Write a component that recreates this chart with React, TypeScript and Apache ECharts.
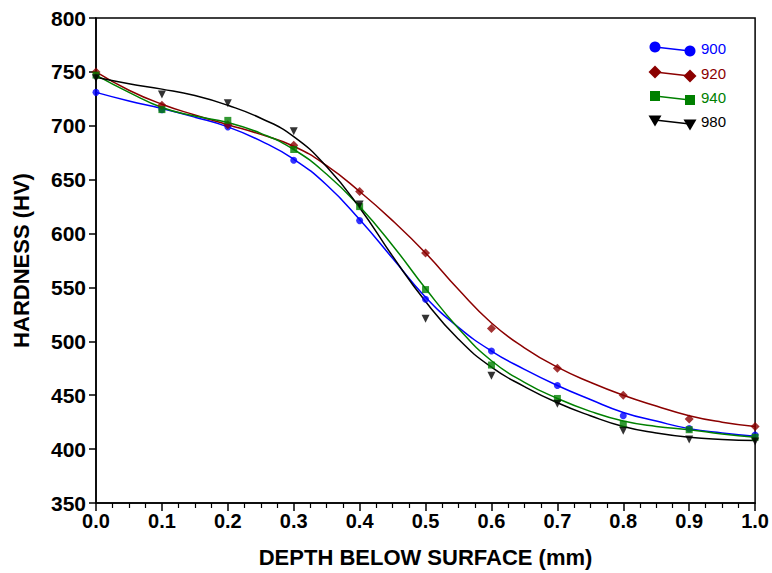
import React, { useEffect, useRef } from "react";
import * as echarts from "echarts";

const depth = [0.0, 0.1, 0.2, 0.3, 0.4, 0.5, 0.6, 0.7, 0.8, 0.9, 1.0];
const hv900 = [731, 715, 699, 668, 612, 539, 491, 459, 431, 419, 413];
const hv920 = [750, 719, 701, 682, 639, 582, 512, 475, 450, 428, 421];
const hv940 = [747, 715, 705, 678, 625, 548, 478, 447, 423, 418, 411];
const hv980 = [744, 729, 721, 695, 627, 521, 468, 442, 417, 409, 407];

const fitDepth = [0.0, 0.05, 0.1, 0.15, 0.2, 0.25, 0.3, 0.35, 0.4, 0.45, 0.5, 0.55, 0.6, 0.65, 0.7, 0.75, 0.8, 0.85, 0.9, 0.95, 1.0];
const fit900 = [731, 723, 716, 708, 699, 686, 669, 645, 613, 577, 541, 513, 491, 474, 459, 446, 434, 426, 419, 415, 412];
const fit920 = [750, 733, 720, 710, 701, 692, 681, 663, 639, 612, 582, 548, 517, 494, 476, 462, 450, 440, 431, 425, 421];
const fit940 = [747, 731, 717, 709, 703, 693, 678, 655, 625, 589, 549, 512, 482, 462, 447, 435, 426, 421, 418, 414, 411];
const fit980 = [745, 739, 734, 728, 719, 707, 690, 662, 624, 579, 537, 502, 476, 458, 443, 431, 421, 415, 411, 409, 408];

const seriesNames = ["900", "920", "940", "980"];
const colors = ["#0000FF", "#8B0000", "#008000", "#000000"];
const symbols = ["circle", "diamond", "rect", "triangle"];
const symbolSizes = [7, 9, 7, 8];
const symbolRotates = [0, 0, 0, 180];
const pointData = [hv900, hv920, hv940, hv980];
const fitData = [fit900, fit920, fit940, fit980];

const FONT = "'Liberation Sans', Arial, sans-serif";

function legendSymbol(kind: string, cx: number, cy: number, color: string): any {
  const s = 5.5;
  if (kind === "circle") return { type: "circle", shape: { cx, cy, r: s }, style: { fill: color } };
  if (kind === "diamond")
    return { type: "polygon", shape: { points: [[cx, cy - s - 1], [cx + s + 1, cy], [cx, cy + s + 1], [cx - s - 1, cy]] }, style: { fill: color } };
  if (kind === "rect") return { type: "rect", shape: { x: cx - s + 0.5, y: cy - s + 0.5, width: 2 * s - 1, height: 2 * s - 1 }, style: { fill: color } };
  return { type: "polygon", shape: { points: [[cx - s - 1, cy - s + 1], [cx + s + 1, cy - s + 1], [cx, cy + s + 1]] }, style: { fill: color } };
}

export default function App() {
  const ref = useRef<HTMLDivElement>(null);
  useEffect(() => {
    if (!ref.current) return;
    const chart = echarts.init(ref.current, undefined, { renderer: "svg" });
    const series: any[] = [];
    seriesNames.forEach((name, i) => {
      series.push({
        name: name + " fit",
        type: "line",
        data: fitDepth.map((d, k) => [d, fitData[i][k]]),
        smooth: true,
        showSymbol: false,
        lineStyle: { color: colors[i], width: 1.5 },
        z: 2,
      });
      series.push({
        name,
        type: "scatter",
        data: depth.map((d, k) => [d, pointData[i][k]]),
        symbol: symbols[i],
        symbolSize: symbolSizes[i],
        symbolRotate: symbolRotates[i],
        itemStyle: { color: colors[i] },
        z: 3,
      });
    });

    const legendEls: any[] = [];
    const baseY = [47, 72, 96, 120];
    seriesNames.forEach((name, i) => {
      const y0 = baseY[i];
      legendEls.push({ type: "line", shape: { x1: 655, y1: y0, x2: 690, y2: y0 + 4 }, style: { stroke: colors[i], lineWidth: 1.5 } });
      legendEls.push(legendSymbol(symbols[i], 655, y0, colors[i]));
      legendEls.push(legendSymbol(symbols[i], 690, y0 + 4, colors[i]));
      legendEls.push({
        type: "text",
        x: 701,
        y: y0 + 1,
        style: { text: name, fill: colors[i], font: `15px ${FONT}`, textVerticalAlign: "middle" },
      });
    });

    chart.setOption({
      animation: false,
      backgroundColor: "#ffffff",
      grid: { left: 96, right: 15, top: 18, bottom: 66, show: true, borderColor: "#000", borderWidth: 1.5, backgroundColor: "transparent" },
      xAxis: {
        type: "value",
        min: 0,
        max: 1,
        interval: 0.1,
        name: "DEPTH BELOW SURFACE (mm)",
        nameLocation: "middle",
        nameGap: 43,
        nameTextStyle: { fontFamily: FONT, fontWeight: "bold", fontSize: 22, color: "#000" },
        axisLine: { lineStyle: { color: "#000", width: 1.5 } },
        axisTick: { length: 8, lineStyle: { color: "#000", width: 1.5 } },
        minorTick: { show: true, splitNumber: 4, length: 5, lineStyle: { color: "#000", width: 1.2 } },
        axisLabel: { formatter: (v: number) => v.toFixed(1), fontFamily: FONT, fontWeight: "bold", fontSize: 20, color: "#000", margin: 8 },
        splitLine: { show: false },
      },
      yAxis: {
        type: "value",
        min: 350,
        max: 800,
        interval: 50,
        name: "HARDNESS (HV)",
        nameLocation: "middle",
        nameGap: 64,
        nameTextStyle: { fontFamily: FONT, fontWeight: "bold", fontSize: 22, color: "#000" },
        axisLine: { show: true, lineStyle: { color: "#000", width: 1.5 } },
        axisTick: { show: true, length: 7, lineStyle: { color: "#000", width: 1.5 } },
        axisLabel: { fontFamily: FONT, fontWeight: "bold", fontSize: 21, color: "#000", margin: 10 },
        splitLine: { show: false },
      },
      series,
      graphic: legendEls,
    });
    return () => chart.dispose();
  }, []);
  return <div ref={ref} style={{ position: "absolute", left: 0, top: 0, width: 772, height: 573 }} />;
}
